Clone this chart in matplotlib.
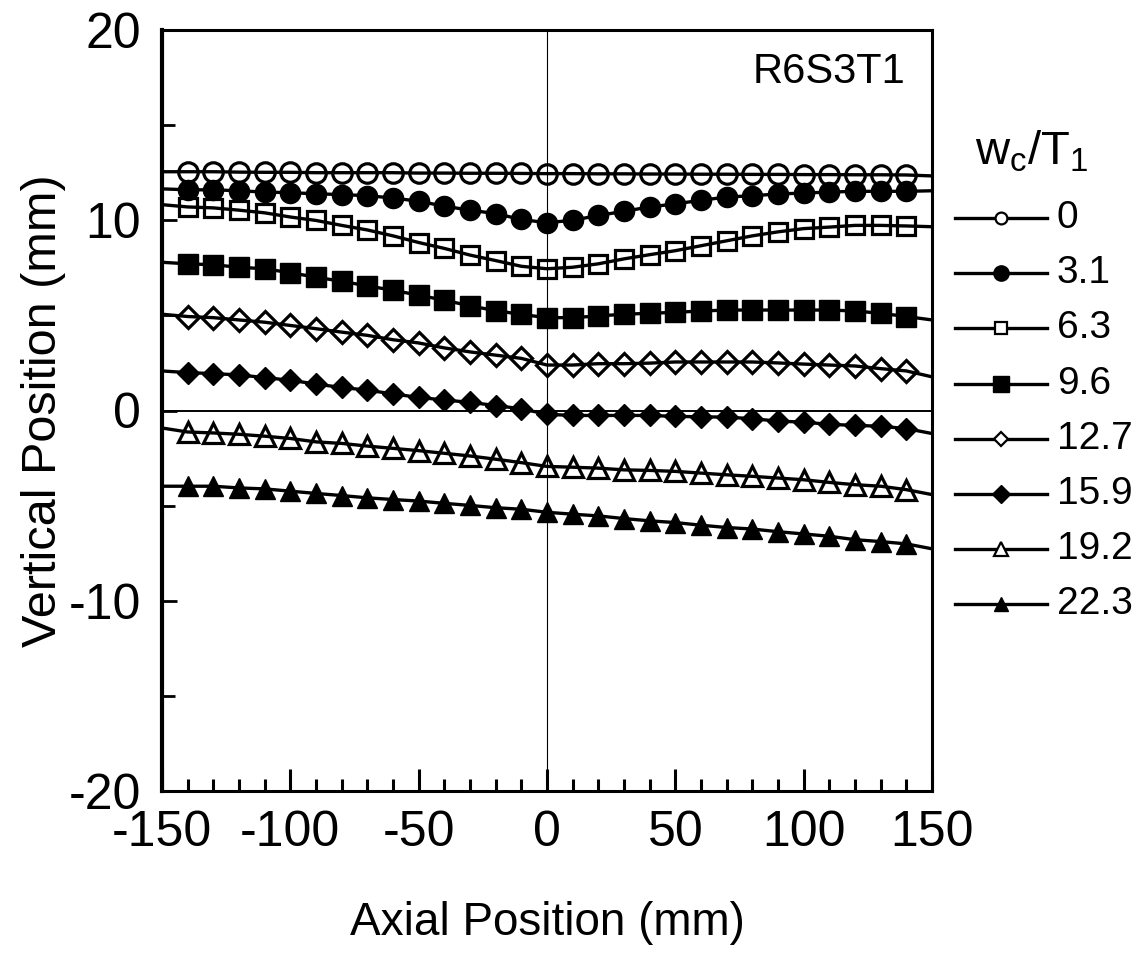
import matplotlib
matplotlib.use("Agg")
import matplotlib.pyplot as plt
from matplotlib.lines import Line2D
from matplotlib.ticker import MultipleLocator, FixedLocator

plt.rcParams['font.family'] = ['Liberation Sans', 'DejaVu Sans']
plt.rcParams['mathtext.fontset'] = 'custom'
plt.rcParams['mathtext.rm'] = 'Liberation Sans'
plt.rcParams['mathtext.it'] = 'Liberation Sans'

# ---- data ----
x_pos = [-140, -130, -120, -110, -100, -90, -80, -70, -60, -50, -40, -30, -20, -10, 0,
         10, 20, 30, 40, 50, 60, 70, 80, 90, 100, 110, 120, 130, 140]
x_edges = [-150, 150]

labels = ["0", "3.1", "6.3", "9.6", "12.7", "15.9", "19.2", "22.3"]

s_0 = [12.55, 12.55, 12.53, 12.52, 12.52, 12.50, 12.50, 12.50, 12.50, 12.48, 12.48, 12.47, 12.47, 12.46, 12.45,
       12.45, 12.44, 12.44, 12.43, 12.43, 12.42, 12.42, 12.41, 12.41, 12.40, 12.40, 12.39, 12.39, 12.38]
s_3_1 = [11.60, 11.60, 11.55, 11.48, 11.45, 11.39, 11.35, 11.29, 11.17, 11.00, 10.74, 10.53, 10.35, 10.04, 9.87,
         10.00, 10.25, 10.47, 10.70, 10.86, 11.05, 11.22, 11.29, 11.38, 11.43, 11.48, 11.52, 11.52, 11.52]
s_6_3 = [10.70, 10.65, 10.53, 10.39, 10.17, 9.99, 9.73, 9.49, 9.18, 8.83, 8.52, 8.17, 7.88, 7.58, 7.45,
         7.53, 7.71, 7.97, 8.19, 8.40, 8.66, 8.92, 9.18, 9.39, 9.56, 9.64, 9.73, 9.73, 9.70]
s_9_6 = [7.71, 7.66, 7.53, 7.45, 7.24, 7.01, 6.79, 6.55, 6.32, 6.06, 5.80, 5.50, 5.25, 5.05, 4.88,
         4.88, 4.97, 5.06, 5.11, 5.16, 5.23, 5.28, 5.28, 5.28, 5.28, 5.28, 5.23, 5.11, 4.94]
s_12_7 = [4.94, 4.88, 4.76, 4.64, 4.47, 4.30, 4.12, 3.95, 3.72, 3.55, 3.29, 3.08, 2.91, 2.74, 2.39,
          2.39, 2.46, 2.46, 2.49, 2.55, 2.55, 2.55, 2.55, 2.50, 2.44, 2.39, 2.34, 2.20, 2.08]
s_15_9 = [1.99, 1.94, 1.87, 1.73, 1.59, 1.39, 1.21, 1.07, 0.87, 0.69, 0.55, 0.43, 0.26, 0.09, -0.20,
          -0.26, -0.26, -0.26, -0.26, -0.31, -0.33, -0.35, -0.43, -0.56, -0.61, -0.73, -0.78, -0.83, -0.95]
s_19_2 = [-1.13, -1.18, -1.25, -1.35, -1.47, -1.65, -1.73, -1.87, -1.99, -2.11, -2.25, -2.39, -2.56, -2.74, -2.94,
          -2.98, -3.03, -3.12, -3.15, -3.20, -3.29, -3.38, -3.46, -3.55, -3.64, -3.78, -3.90, -3.98, -4.16]
s_22_3 = [-3.98, -3.98, -4.07, -4.12, -4.24, -4.36, -4.47, -4.59, -4.68, -4.76, -4.88, -4.99, -5.11, -5.19, -5.35,
          -5.45, -5.54, -5.68, -5.80, -5.89, -6.03, -6.15, -6.23, -6.37, -6.49, -6.61, -6.79, -6.89, -7.01]

# line values at the plot edges (x = -150 and x = 150)
left_edge = [12.55, 11.65, 10.82, 7.79, 5.06, 2.08, -0.92, -3.98]
right_edge = [12.33, 11.55, 9.66, 4.76, 1.77, -1.21, -4.42, -7.27]

series = [s_0, s_3_1, s_6_3, s_9_6, s_12_7, s_15_9, s_19_2, s_22_3]

x_ticks_major = [-150, -100, -50, 0, 50, 100, 150]
y_ticks_major = [-20, -10, 0, 10, 20]

# ---- styles ----
markers = ['o', 'o', 's', 's', 'D', 'D', '^', '^']
filled = [False, True, False, True, False, True, False, True]
msizes = [14, 14.5, 13, 14.5, 11, 11.5, 14, 14.5]
leg_msizes = [8.5, 11, 9, 11, 7.5, 9.5, 9.5, 10.5]

W, H = 1137, 957
fig = plt.figure(figsize=(W / 100, H / 100), dpi=100)
ax = fig.add_axes([162 / W, 1 - 791 / H, (932 - 162) / W, (791 - 30) / H])

ax.set_xlim(-150, 150)
ax.set_ylim(-20, 20)

ax.axhline(0, color='black', lw=1.4, zorder=1)
ax.axvline(0, color='black', lw=0.8, zorder=1)

for vals, le, re, mk, fl, ms in zip(series, left_edge, right_edge, markers, filled, msizes):
    lx = [x_edges[0]] + x_pos + [x_edges[1]]
    ly = [le] + vals + [re]
    ax.plot(lx, ly, color='black', lw=2.4, zorder=2, clip_on=False)
    ax.plot(x_pos, vals, linestyle='none', marker=mk, markersize=ms,
            markerfacecolor='black' if fl else 'none', markeredgecolor='black',
            markeredgewidth=2.3 if not fl else 1.0, zorder=3)

for sp in ax.spines.values():
    sp.set_linewidth(2.2)
ax.spines['left'].set_linewidth(3.0)

ax.xaxis.set_major_locator(FixedLocator(x_ticks_major))
ax.xaxis.set_minor_locator(MultipleLocator(10))
ax.yaxis.set_major_locator(FixedLocator(y_ticks_major))
ax.yaxis.set_minor_locator(MultipleLocator(5))
ax.tick_params(axis='x', which='major', direction='in', length=16, width=2.2,
               bottom=True, top=False, labelsize=36, pad=14)
ax.tick_params(axis='x', which='minor', direction='in', length=8.5, width=2.2,
               bottom=True, top=False)
ax.tick_params(axis='y', which='major', direction='in', length=11, width=2.0,
               left=True, right=False, labelsize=36, pad=15)
ax.tick_params(axis='y', which='minor', direction='in', length=9, width=2.0,
               left=True, right=False)
ax.set_xticklabels([str(v) for v in x_ticks_major])
ax.set_yticklabels([str(v) for v in y_ticks_major])

ax.set_xlabel("Axial Position (mm)", fontsize=33, labelpad=32)
ax.set_ylabel("Vertical Position (mm)", fontsize=35, labelpad=2)

ax.text(0.965, 0.945, "R6S3T1", transform=ax.transAxes, ha='right', va='center', fontsize=30)

# ---- legend (drawn in figure pixel coordinates) ----
def fx(px):
    return px / W

def fy(py):
    return 1 - py / H

fig.text(fx(1032), fy(152), r"$\mathrm{w_c/T_1}$", ha='center', va='center', fontsize=34)
row_y = [218, 273, 328, 384, 439, 494, 549, 604]
for lab, mk, fl, lms, ry in zip(labels, markers, filled, leg_msizes, row_y):
    fig.add_artist(Line2D([fx(955), fx(1047)], [fy(ry), fy(ry)], transform=fig.transFigure,
                          color='black', lw=2.4))
    fig.add_artist(Line2D([fx(1001)], [fy(ry)], transform=fig.transFigure, linestyle='none',
                          marker=mk, markersize=lms,
                          markerfacecolor='black' if fl else 'white', markeredgecolor='black',
                          markeredgewidth=1.6 if not fl else 1.0))
    fig.text(fx(1057), fy(ry), lab, ha='left', va='center', fontsize=28)

fig.savefig("out.png", dpi=100)
